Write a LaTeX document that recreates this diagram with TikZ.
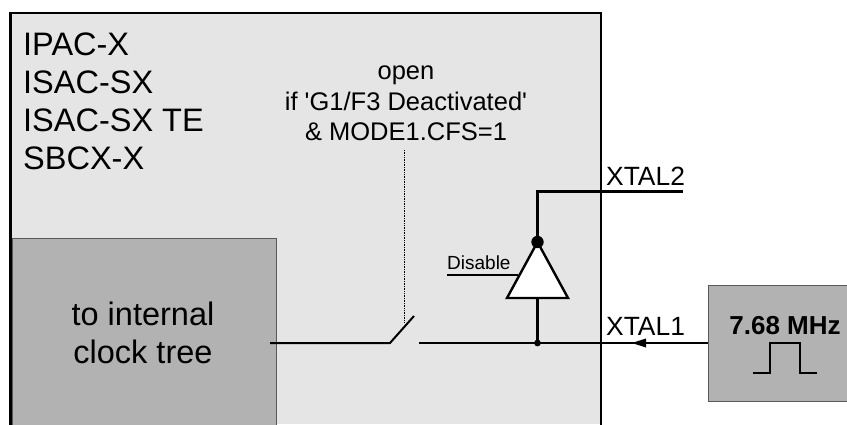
\documentclass[tikz,border=0pt]{standalone}
\usepackage{fontspec}
\setmainfont{Liberation Sans}
\definecolor{boxgray}{gray}{0.70}
\definecolor{chipgray}{gray}{0.90}
\tikzset{
  pin/.style={draw=black,line width=2.4pt},
  graybox/.style={draw=black!65,fill=boxgray,line width=1pt,inner sep=0pt,align=center},
  biglabel/.style={font=\fontsize{32.5}{38}\selectfont},
  pinlabel/.style={anchor=base west,inner sep=0pt,font=\fontsize{26.4}{30}\selectfont},
}
\begin{document}
\begin{tikzpicture}[x=1pt,y=-1pt]
\useasboundingbox (0,0) rectangle (847,424);
\fill[chipgray] (10.5,13) rectangle (601,424);
\draw[line width=2.4pt] (10.5,424.5) -- (10.5,13) -- (601,13) -- (601,424.5);
% internal clock tree box
\draw[draw=black!65,fill=boxgray,line width=1pt] (12,238) -- (276,238) -- (276,425) -- (12,425) -- cycle;
\node[align=center,biglabel] (tree) at (143,333) {to internal\\clock tree};
% titles
\node[anchor=north west,align=left,inner sep=0pt,biglabel] (names) at (23,32.5) {IPAC-X\\ISAC-SX\\ISAC-SX TE\\SBCX-X};
\node[align=center,font=\fontsize{25.5}{30.5}\selectfont] (open) at (406,103.5) {open\\if \textquotesingle G1/F3 Deactivated\textquotesingle\\\& MODE1.CFS=1};
% crystal box
\node[graybox,minimum width=140pt,minimum height=116pt,anchor=north west] (xtal) at (707.5,285) {};
\node[anchor=base,inner sep=0pt,font=\bfseries\fontsize{26}{30}\selectfont] (mhz) at (785,334) {7.68 MHz};
\draw[line width=2pt] (753,373) -- (770,373) -- (770,343) -- (800,343) -- (800,373) -- (817,373);
% coordinates
\coordinate (sw1) at (390,343);
\coordinate (sw2) at (414,316);
\coordinate (sw3) at (419,343);
\coordinate (join) at (537.5,343);
\coordinate (xt2) at (683,191.5);
\coordinate (apex) at (537.5,242);
\coordinate (dis) at (447,275);
\coordinate (dp) at (518,275);
\coordinate (dottop) at (404.5,150);
\coordinate (dotend) at (404.5,323);
\coordinate (treeout) at (270,343);
% lines
\draw[line width=2pt] (treeout) -- (sw1) -- (sw2);
\draw[line width=0.7pt,densely dotted] (dottop) -- (dotend);
\draw[line width=2pt] (sw3) -- (xtal.west |- sw3);
\fill (join) circle (3.4pt);
\draw[pin] (join) -- (537.5,298);
\draw[pin,fill=white,line join=miter] (537.5,242) -- (568,298) -- (507,298) -- cycle;
\draw[pin] (apex) |- (xt2);
\fill (apex) circle (6.2pt);
\draw[pin] (dis) -- (dp);
\node[anchor=base west,inner sep=0pt,font=\fontsize{19}{22}\selectfont] (distext) at (447,269) {Disable};
\fill (632,343) -- (646,338.5) -- (646,347.5) -- cycle;
\node[pinlabel] (xa) at (606,335) {XTAL1};
\node[pinlabel] (xb) at (606,185.7) {XTAL2};
\end{tikzpicture}
\end{document}
